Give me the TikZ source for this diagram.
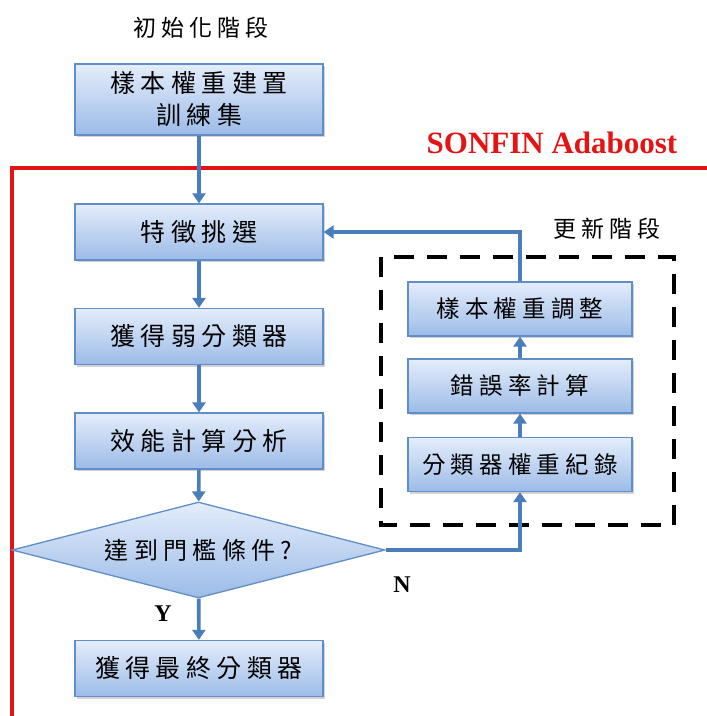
\documentclass[tikz,border=0pt]{standalone}
\usepackage{fontspec}
\setmainfont{Liberation Serif}
\newfontfamily\cjk[LetterSpace=22]{Noto Sans CJK TC}
\usetikzlibrary{arrows.meta,shapes.geometric,shadows}
\definecolor{flowblue}{RGB}{74,126,186}
\definecolor{boxedge}{RGB}{96,142,200}
\definecolor{boxtop}{RGB}{228,237,251}
\definecolor{boxbottom}{RGB}{156,187,231}
\definecolor{framered}{RGB}{228,20,20}
\tikzset{
  stagebox/.style={draw=boxedge, line width=1.3pt, top color=boxtop, bottom color=boxbottom,
    drop shadow={shadow xshift=2pt, shadow yshift=-2pt, opacity=0.35},
    minimum width=248pt, minimum height=56pt, inner sep=0pt, align=center,
    font=\fontsize{25}{32}\cjk},
  updbox/.style={stagebox, minimum width=224pt, minimum height=54pt,
    font=\fontsize{23.5}{30}\cjk},
  flow/.style={draw=flowblue, line width=3.6pt, -{Triangle[length=10pt,width=13pt]}},
  caption/.style={font=\fontsize{23}{26}\cjk},
  tag/.style={font=\fontsize{24}{26}\bfseries}
}
\begin{document}
\begin{tikzpicture}[x=1pt,y=-1pt]
\useasboundingbox (0,0) rectangle (707,716);
\fill[white] (0,0) rectangle (707,716);

% outer red frame of the SONFIN Adaboost loop
\begin{scope}
  \clip (0,0) rectangle (707,716);
  \draw[framered, line width=3.3pt] (12,730) -- (12,168) -- (720,168);
\end{scope}
\node[font=\fontsize{31}{33}\bfseries, text=framered] (title) at (552,143) {SONFIN Adaboost};

% dashed frame of the update stage
\draw[black, line width=4pt, dash pattern=on 20pt off 13pt] (381,257) rectangle (674,525);
\node[caption] (updcap) at (607,229) {更新階段};
\node[caption] (initcap) at (201,28) {初始化階段};

% main column
\node[stagebox, minimum height=71pt] (b1) at (199,99.5) {樣本權重建置\\訓練集};
\node[stagebox] (b2) at (199,232) {特徵挑選};
\node[stagebox] (b3) at (199,336.5) {獲得弱分類器};
\node[stagebox] (b4) at (199,441) {效能計算分析};
\node[diamond, aspect=3.89, draw=boxedge, line width=1.3pt, top color=boxtop, bottom color=boxbottom,
      minimum width=373pt, minimum height=96pt, inner sep=0pt,
      font=\fontsize{24}{30}\cjk] (dia) at (198.5,550) {達到門檻條件?};
\node[stagebox] (b5) at (199,668.5) {獲得最終分類器};

% update column
\node[updbox] (r1) at (520,309) {樣本權重調整};
\node[updbox] (r2) at (520,386) {錯誤率計算};
\node[updbox] (r3) at (520,464.5) {分類器權重紀錄};

% connectors
\draw[flow] (b1) -- (b2);
\draw[flow] (b2) -- (b3);
\draw[flow] (b3) -- (b4);
\draw[flow] (b4) -- (dia);
\draw[flow] (dia) -- (b5);
\draw[flow] (dia.east) -| (r3.south);
\draw[flow] (r3) -- (r2);
\draw[flow] (r2) -- (r1);
\draw[flow] (r1.north) |- (b2.east);

\node[tag] (ylab) at (163,614) {Y};
\node[tag] (nlab) at (402,585) {N};
\end{tikzpicture}
\end{document}
